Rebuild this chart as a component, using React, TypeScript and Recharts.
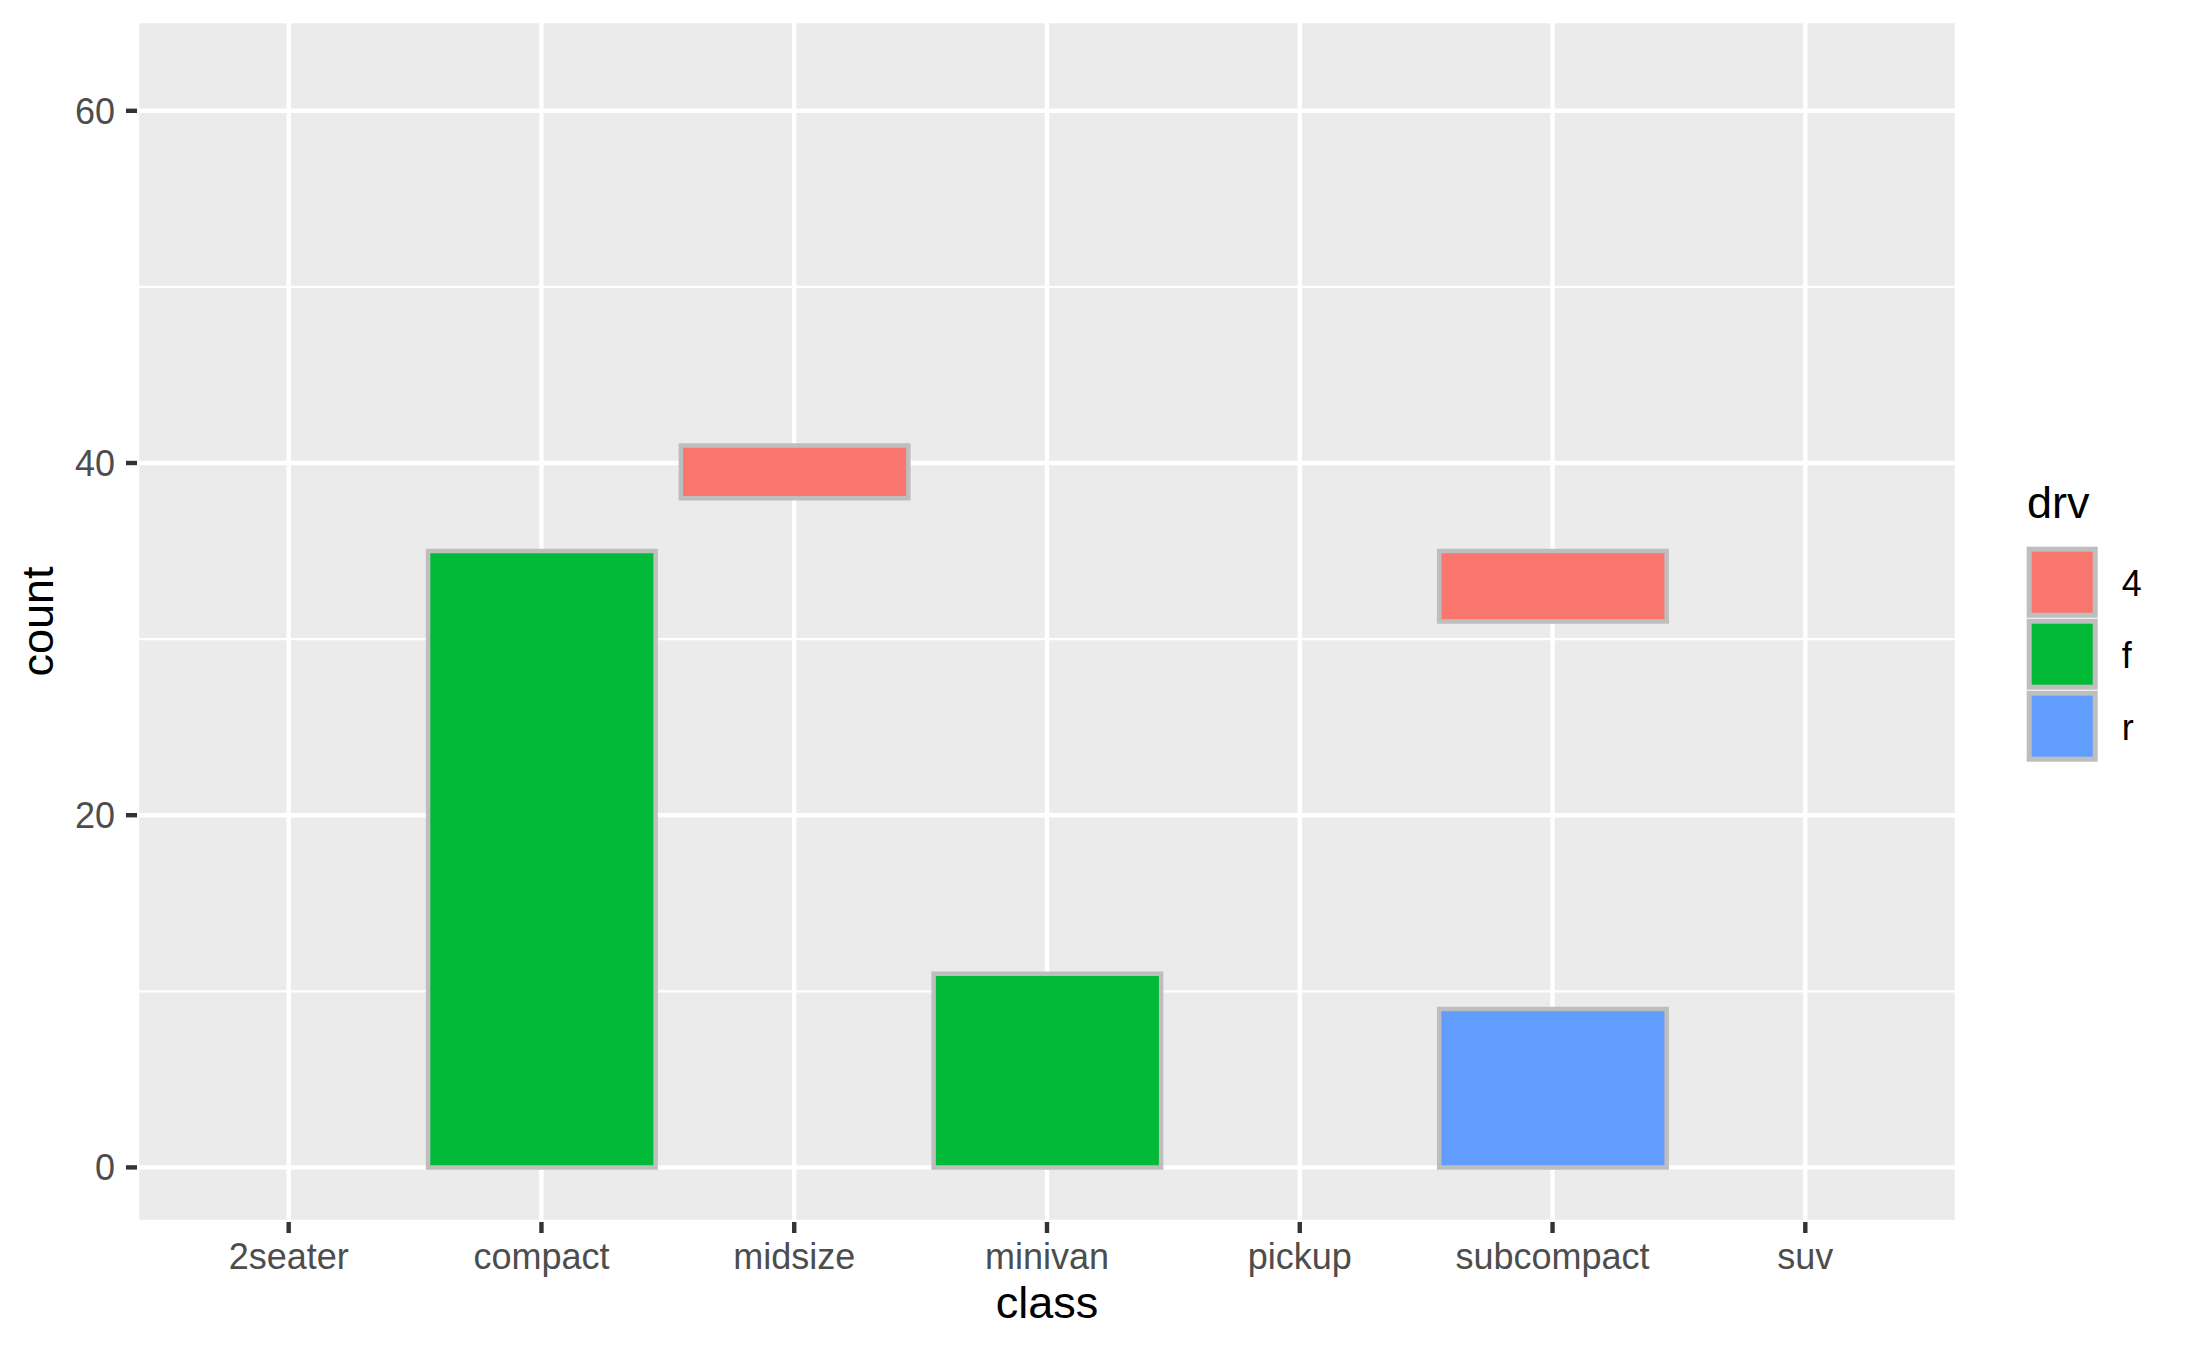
import { BarChart, Bar, XAxis, YAxis, CartesianGrid } from "recharts";

const classes = ["2seater", "compact", "midsize", "minivan", "pickup", "subcompact", "suv"];
// [low, high] ranges per class, null where the group has no bar
const drv4 = [null, null, [38, 41], null, null, [31, 35], null];
const drvF = [null, [0, 35], null, [0, 11], null, null, null];
const drvR = [null, null, null, null, null, [0, 9], null];

const majorTicks = [0, 20, 40, 60];
const minorTicks = [10, 30, 50];
const yDomain = [-3.1, 65.1];

const legendKeys = [
  { label: "4", color: "#F8766D" },
  { label: "f", color: "#00BA38" },
  { label: "r", color: "#619CFF" },
];

const data = classes.map((c, i) => ({ cls: c, four: drv4[i], f: drvF[i], r: drvR[i] }));

const FONT = "'Liberation Sans', Arial, Helvetica, sans-serif";
const W = 2187;
const H = 1351;
const BAR_STROKE = "#BEBEBE";

export default function App() {
  const xProps = {
    dataKey: "cls",
    type: "category" as const,
    padding: { left: 25.3, right: 25.3 },
  };

  return (
    <div style={{ position: "relative", width: W, height: H, background: "#fff" }}>
      <style>{`body{margin:0}`}</style>
      <BarChart
        width={W}
        height={H}
        data={data}
        margin={{ top: 21, right: 230, bottom: 69, left: 37 }}
      >
        <CartesianGrid fill="#EBEBEB" stroke="#FFFFFF" strokeWidth={4.4} />
        <CartesianGrid yAxisId="minor" vertical={false} stroke="#FFFFFF" strokeWidth={2.2} />
        <XAxis
          {...xProps}
          height={60}
          axisLine={false}
          tickSize={11}
          tickMargin={10}
          tickLine={{ stroke: "#333333", strokeWidth: 4.4 }}
          tick={{ fill: "#4D4D4D", fontSize: 36, fontFamily: FONT }}
          interval={0}
        />
        <XAxis {...xProps} xAxisId="a4" hide />
        <XAxis {...xProps} xAxisId="ar" hide />
        <YAxis
          domain={yDomain}
          ticks={majorTicks}
          width={100}
          axisLine={false}
          tickSize={11}
          tickMargin={11}
          tickLine={{ stroke: "#333333", strokeWidth: 4.4 }}
          tick={{ fill: "#4D4D4D", fontSize: 36, fontFamily: FONT }}
          allowDataOverflow
        />
        <YAxis yAxisId="minor" domain={yDomain} ticks={minorTicks} hide allowDataOverflow />
        <Bar
          dataKey="f"
          fill="#00BA38"
          stroke={BAR_STROKE}
          strokeWidth={4.5}
          barSize={227.5}
          isAnimationActive={false}
        />
        <Bar
          dataKey="four"
          xAxisId="a4"
          fill="#F8766D"
          stroke={BAR_STROKE}
          strokeWidth={4.5}
          barSize={227.5}
          isAnimationActive={false}
        />
        <Bar
          dataKey="r"
          xAxisId="ar"
          fill="#619CFF"
          stroke={BAR_STROKE}
          strokeWidth={4.5}
          barSize={227.5}
          isAnimationActive={false}
        />
      </BarChart>
      <svg
        width={W}
        height={H}
        style={{ position: "absolute", left: 0, top: 0, pointerEvents: "none" }}
        fontFamily={FONT}
      >
        <text x={1047} y={1318} fontSize={45} textAnchor="middle" fill="#000">
          class
        </text>
        <text
          x={53}
          y={621.5}
          fontSize={45}
          textAnchor="middle"
          fill="#000"
          transform="rotate(-90 53 621.5)"
        >
          count
        </text>
        <text x={2027} y={518} fontSize={45} fill="#000">
          drv
        </text>
        {legendKeys.map((k, i) => (
          <g key={k.label}>
            <rect
              x={2029.2}
              y={549.2 + i * 72}
              width={66}
              height={66}
              fill={k.color}
              stroke={BAR_STROKE}
              strokeWidth={5}
            />
            <text x={2121.7} y={595.5 + i * 72} fontSize={36} fill="#000">
              {k.label}
            </text>
          </g>
        ))}
      </svg>
    </div>
  );
}
